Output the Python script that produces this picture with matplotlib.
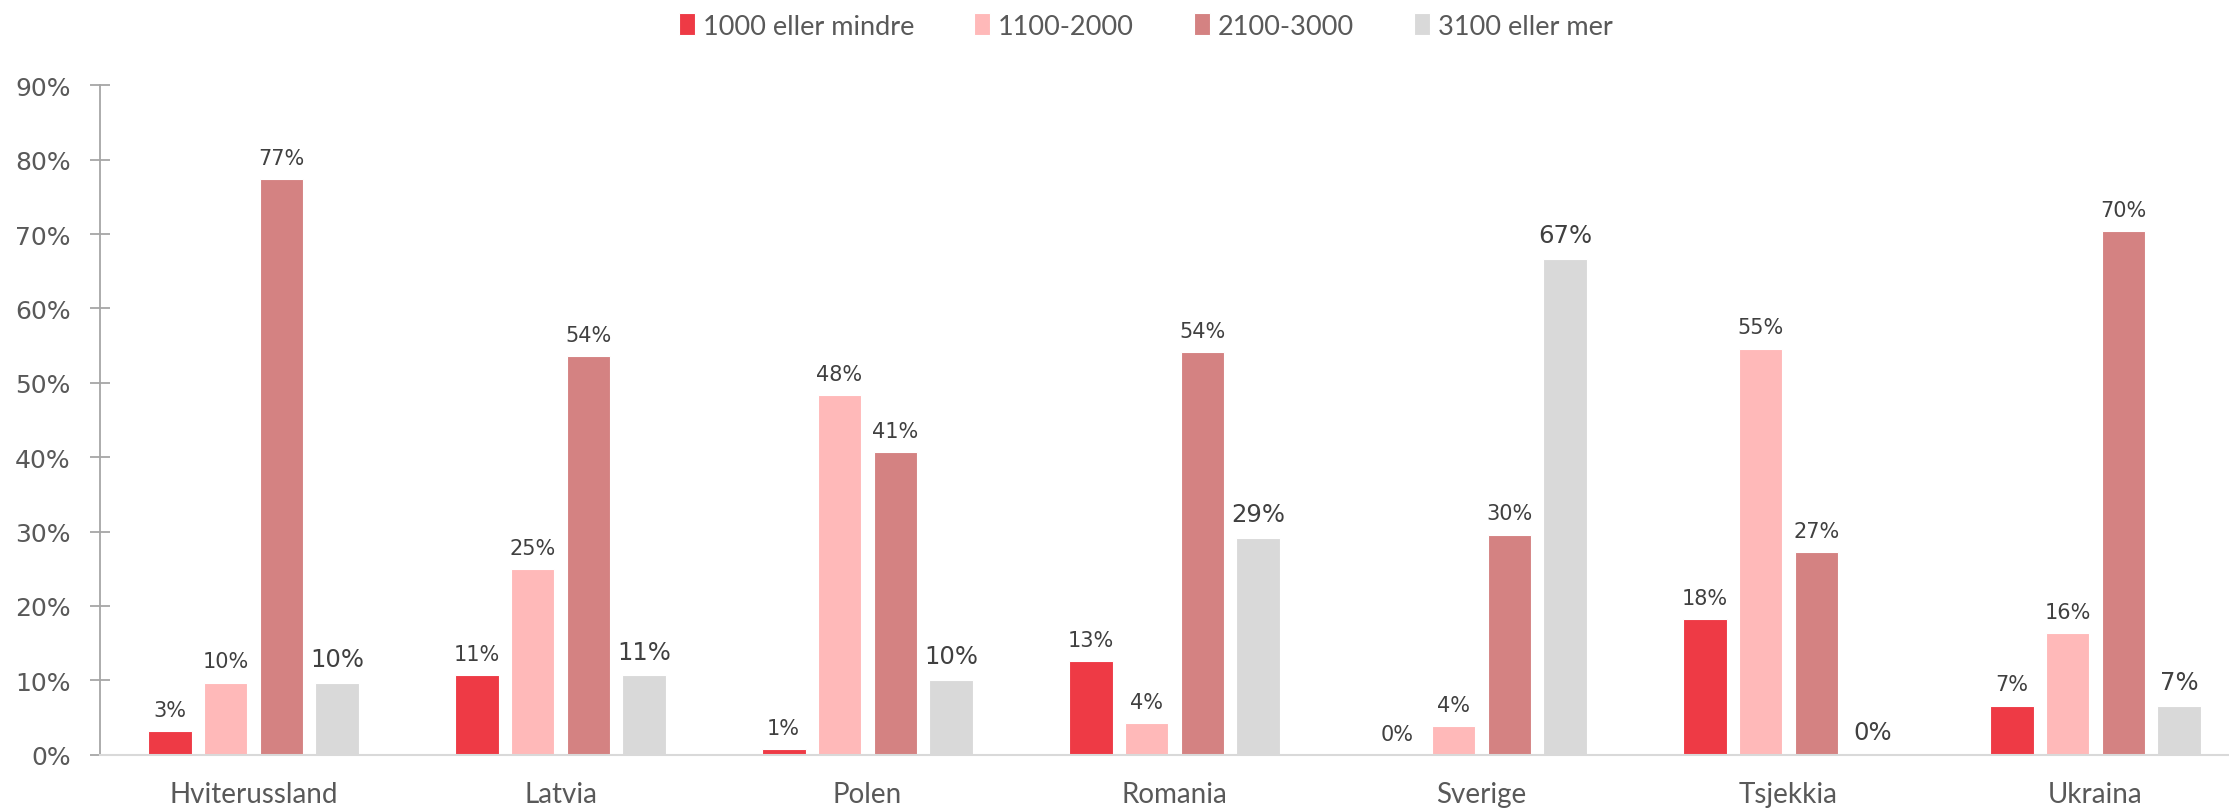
import matplotlib
matplotlib.use("Agg")
import matplotlib.pyplot as plt
import numpy as np

# data (percent)
countries = ["Hviterussland", "Latvia", "Polen", "Romania", "Sverige", "Tsjekkia", "Ukraina"]
series_names = ["1000 eller mindre", "1100-2000", "2100-3000", "3100 eller mer"]
v_1000 = [3.2, 10.7, 0.8, 12.6, 0.0, 18.2, 6.6]
v_1100 = [9.7, 25.0, 48.3, 4.2, 3.8, 54.6, 16.4]
v_2100 = [77.4, 53.6, 40.7, 54.1, 29.6, 27.3, 70.4]
v_3100 = [9.7, 10.7, 10.1, 29.2, 66.7, 0.0, 6.6]
yticks = [0, 10, 20, 30, 40, 50, 60, 70, 80, 90]

colors = ["#EE3A45", "#FFB9B9", "#D48282", "#D9D9D9"]
label_sizes = [15, 15, 15, 17.5]

plt.rcParams["font.family"] = ["Lato", "DejaVu Sans"]

fig = plt.figure(figsize=(22.29, 8.12), dpi=100)
ax = fig.add_axes([100 / 2229, (812 - 755.7) / 812, 2149 / 2229, (755.7 - 86.3) / 812])

x = np.arange(len(countries))
step = 0.1824
width = 0.1433
all_vals = [v_1000, v_1100, v_2100, v_3100]

handles = []
for i, vals in enumerate(all_vals):
    bars = ax.bar(x + (i - 1.5) * step, vals, width, color=colors[i],
                  edgecolor="white", linewidth=0.8, label=series_names[i], zorder=2)
    ax.bar_label(bars, labels=["%d%%" % round(v) for v in vals], padding=8,
                 fontsize=label_sizes[i], color="#404040", family="DejaVu Sans")
    handles.append(bars)

ax.set_xlim(-0.5, len(countries) - 0.5)
ax.set_ylim(0, 90)
ax.set_yticks(yticks)
ax.set_yticklabels(["%d%%" % t for t in yticks], family="DejaVu Sans")
ax.set_xticks(x)
ax.set_xticklabels(countries)

for s in ["top", "right"]:
    ax.spines[s].set_visible(False)
ax.spines["left"].set_color("#A6A6A6")
ax.spines["left"].set_linewidth(1.3)
ax.spines["bottom"].set_color("#D9D9D9")
ax.spines["bottom"].set_linewidth(1.5)

ax.tick_params(axis="y", direction="inout", length=14, width=1.3, color="#A6A6A6",
               labelsize=18, labelcolor="#595959", pad=14)
ax.tick_params(axis="x", length=0, labelsize=20, labelcolor="#595959", pad=19)

fig.legend(handles=handles, labels=series_names, loc="center", bbox_to_anchor=(0.514, 0.967),
           ncol=4, frameon=False, fontsize=19.5, handlelength=0.6, handleheight=0.9,
           handletextpad=0.3, columnspacing=2.2, labelcolor="#595959")

fig.savefig("out.png", dpi=100)
